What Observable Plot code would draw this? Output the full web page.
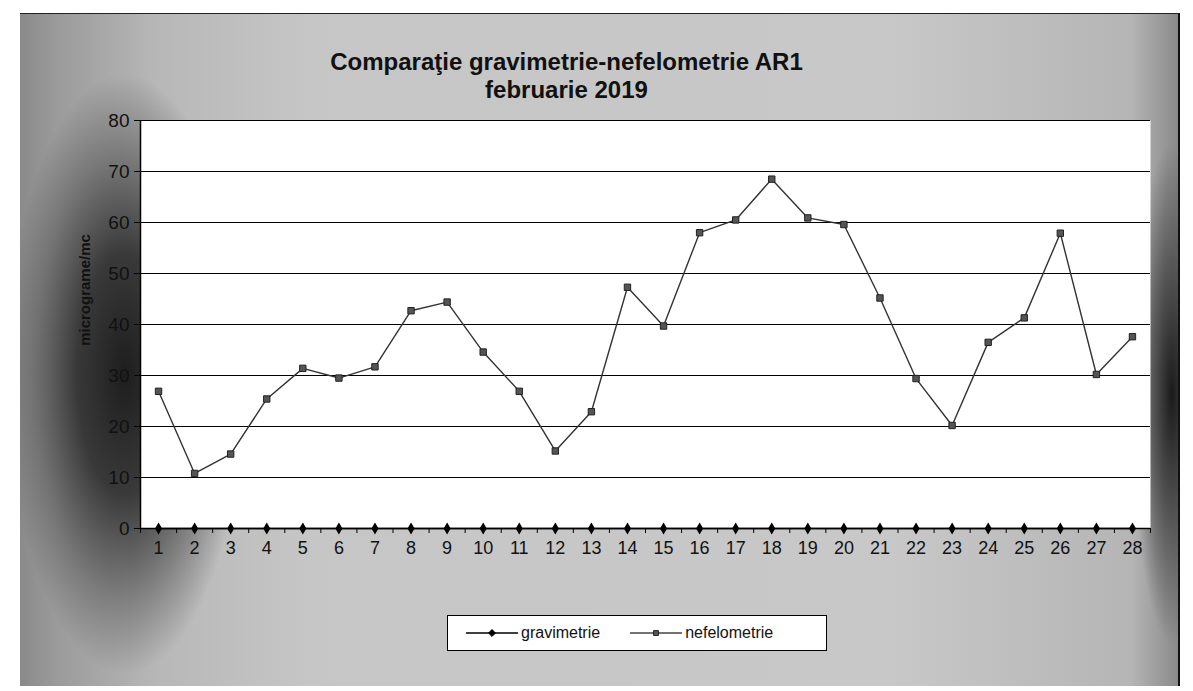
<!DOCTYPE html>
<html>
<head>
<meta charset="utf-8">
<script src="https://cdn.jsdelivr.net/npm/d3@7"></script>
<script src="https://cdn.jsdelivr.net/npm/@observablehq/plot@0.6"></script>
<style>
  body { margin:0; width:1193px; height:691px; position:relative; overflow:hidden; background:#fff; font-family: Arial, "Liberation Sans", sans-serif; }
  #frame { position:absolute; left:20px; top:13px; width:1158px; height:672px; border-top:1px solid #222; border-right:2px solid #111;
    background:
      radial-gradient(ellipse 120px 300px at 105px 360px, rgba(25,25,25,0.97) 0%, rgba(45,45,45,0.9) 40%, rgba(80,80,80,0.5) 75%, rgba(90,90,90,0) 100%),
      radial-gradient(ellipse 40px 250px at 1152px 380px, rgba(20,20,20,0.95) 0%, rgba(60,60,60,0.7) 50%, rgba(90,90,90,0) 100%),
      linear-gradient(to right, #8a8a8a 0%, #9a9a9a 3%, #b8b8b8 12%, #c6c6c6 25%, #c8c8c8 75%, #b5b5b5 96%, #8a8a8a 100%); }
  #title { position:absolute; left:0; width:1133px; top:48px; text-align:center; font-weight:bold; font-size:24px; line-height:28px; color:#111; }
  #chart { position:absolute; left:0; top:100px; }
  #ylabel { position:absolute; left:84px; top:290px; transform:translate(-50%,-50%) rotate(-90deg); font-weight:bold; font-size:15px; color:#111; white-space:nowrap; }
  #legend { position:absolute; left:447px; top:615px; width:378px; height:34px; border:1px solid #000; background:#fff; display:flex; align-items:center; font-size:16px; color:#111; }
  #legend .item { display:flex; align-items:center; margin-left:18px; }
  #legend .item + .item { margin-left:30px; }
  #legend svg { margin-right:3px; }
</style>
</head>
<body>
<div id="frame"></div>
<div id="title">Comparaţie gravimetrie-nefelometrie AR1<br>februarie 2019</div>
<div id="ylabel">micrograme/mc</div>
<div id="chart"></div>
<div id="legend"></div>
<script>
const days = d3.range(1, 29);
const gravimetrie = [0,0,0,0,0,0,0,0,0,0,0,0,0,0,0,0,0,0,0,0,0,0,0,0,0,0,0,0];
const nefelometrie = [26.9,10.8,14.6,25.4,31.4,29.5,31.7,42.7,44.4,34.6,26.9,15.2,22.9,47.3,39.7,58.0,60.5,68.5,60.9,59.6,45.2,29.4,20.2,36.5,41.3,57.9,30.2,37.6];
const yTicks = [0,10,20,30,40,50,60,70,80];
const seriesNames = ["gravimetrie", "nefelometrie"];

const grav = days.map((d, i) => ({day: d, value: gravimetrie[i]}));
const nef = days.map((d, i) => ({day: d, value: nefelometrie[i]}));
const boundaries = d3.range(0.5, 29, 1);

const chart = Plot.plot({
  width: 1193,
  height: 480,
  marginLeft: 140,
  marginRight: 43,
  marginTop: 20,
  marginBottom: 52,
  style: {background: "transparent", fontFamily: "Arial, 'Liberation Sans', sans-serif", color: "#111"},
  x: {type: "linear", domain: [0.5, 28.5]},
  y: {domain: [0, 80]},
  marks: [
    Plot.frame({fill: "white", stroke: "none"}),
    Plot.gridY(yTicks, {stroke: "#000", strokeOpacity: 1, strokeWidth: 1}),
    Plot.axisY(yTicks, {tickSize: 6, tickPadding: 5, fontSize: 19, label: null, stroke: "#000"}),
    Plot.axisX(boundaries, {tickSize: 5, tickFormat: () => "", label: null, stroke: "#000"}),
    Plot.axisX(days, {tickSize: 0, tickPadding: 13, fontSize: 18, label: null, tickFormat: d => String(d)}),
    Plot.ruleX([0.5], {stroke: "#000", strokeWidth: 1.5}),
    Plot.ruleY([0], {stroke: "#000", strokeWidth: 1.5}),
    Plot.line(nef, {x: "day", y: "value", stroke: "#333", strokeWidth: 1.4}),
    Plot.dot(nef, {x: "day", y: "value", symbol: "square", r: 3.6, fill: "#555", stroke: "#222", strokeWidth: 1}),
    Plot.line(grav, {x: "day", y: "value", stroke: "#000", strokeWidth: 1.5}),
    Plot.dot(grav, {x: "day", y: "value", symbol: "diamond", r: 2.8, fill: "#000", stroke: "#000"})
  ]
});
document.getElementById("chart").appendChild(chart);

// legend
const legend = document.getElementById("legend");
const colors = ["#000", "#444"];
seriesNames.forEach((name, i) => {
  const item = document.createElement("div");
  item.className = "item";
  const svg = d3.create("svg").attr("width", 52).attr("height", 12);
  svg.append("line").attr("x1", 0).attr("x2", 52).attr("y1", 6).attr("y2", 6).attr("stroke", colors[i]).attr("stroke-width", 1.5);
  svg.append("path").attr("transform", "translate(26,6)")
    .attr("d", d3.symbol(i === 0 ? d3.symbolDiamond2 : d3.symbolSquare2, 30)())
    .attr("fill", i === 0 ? "#000" : "#555").attr("stroke", i === 0 ? "#000" : "#222");
  item.appendChild(svg.node());
  const t = document.createElement("span");
  t.textContent = name;
  item.appendChild(t);
  legend.appendChild(item);
});
</script>
</body>
</html>
